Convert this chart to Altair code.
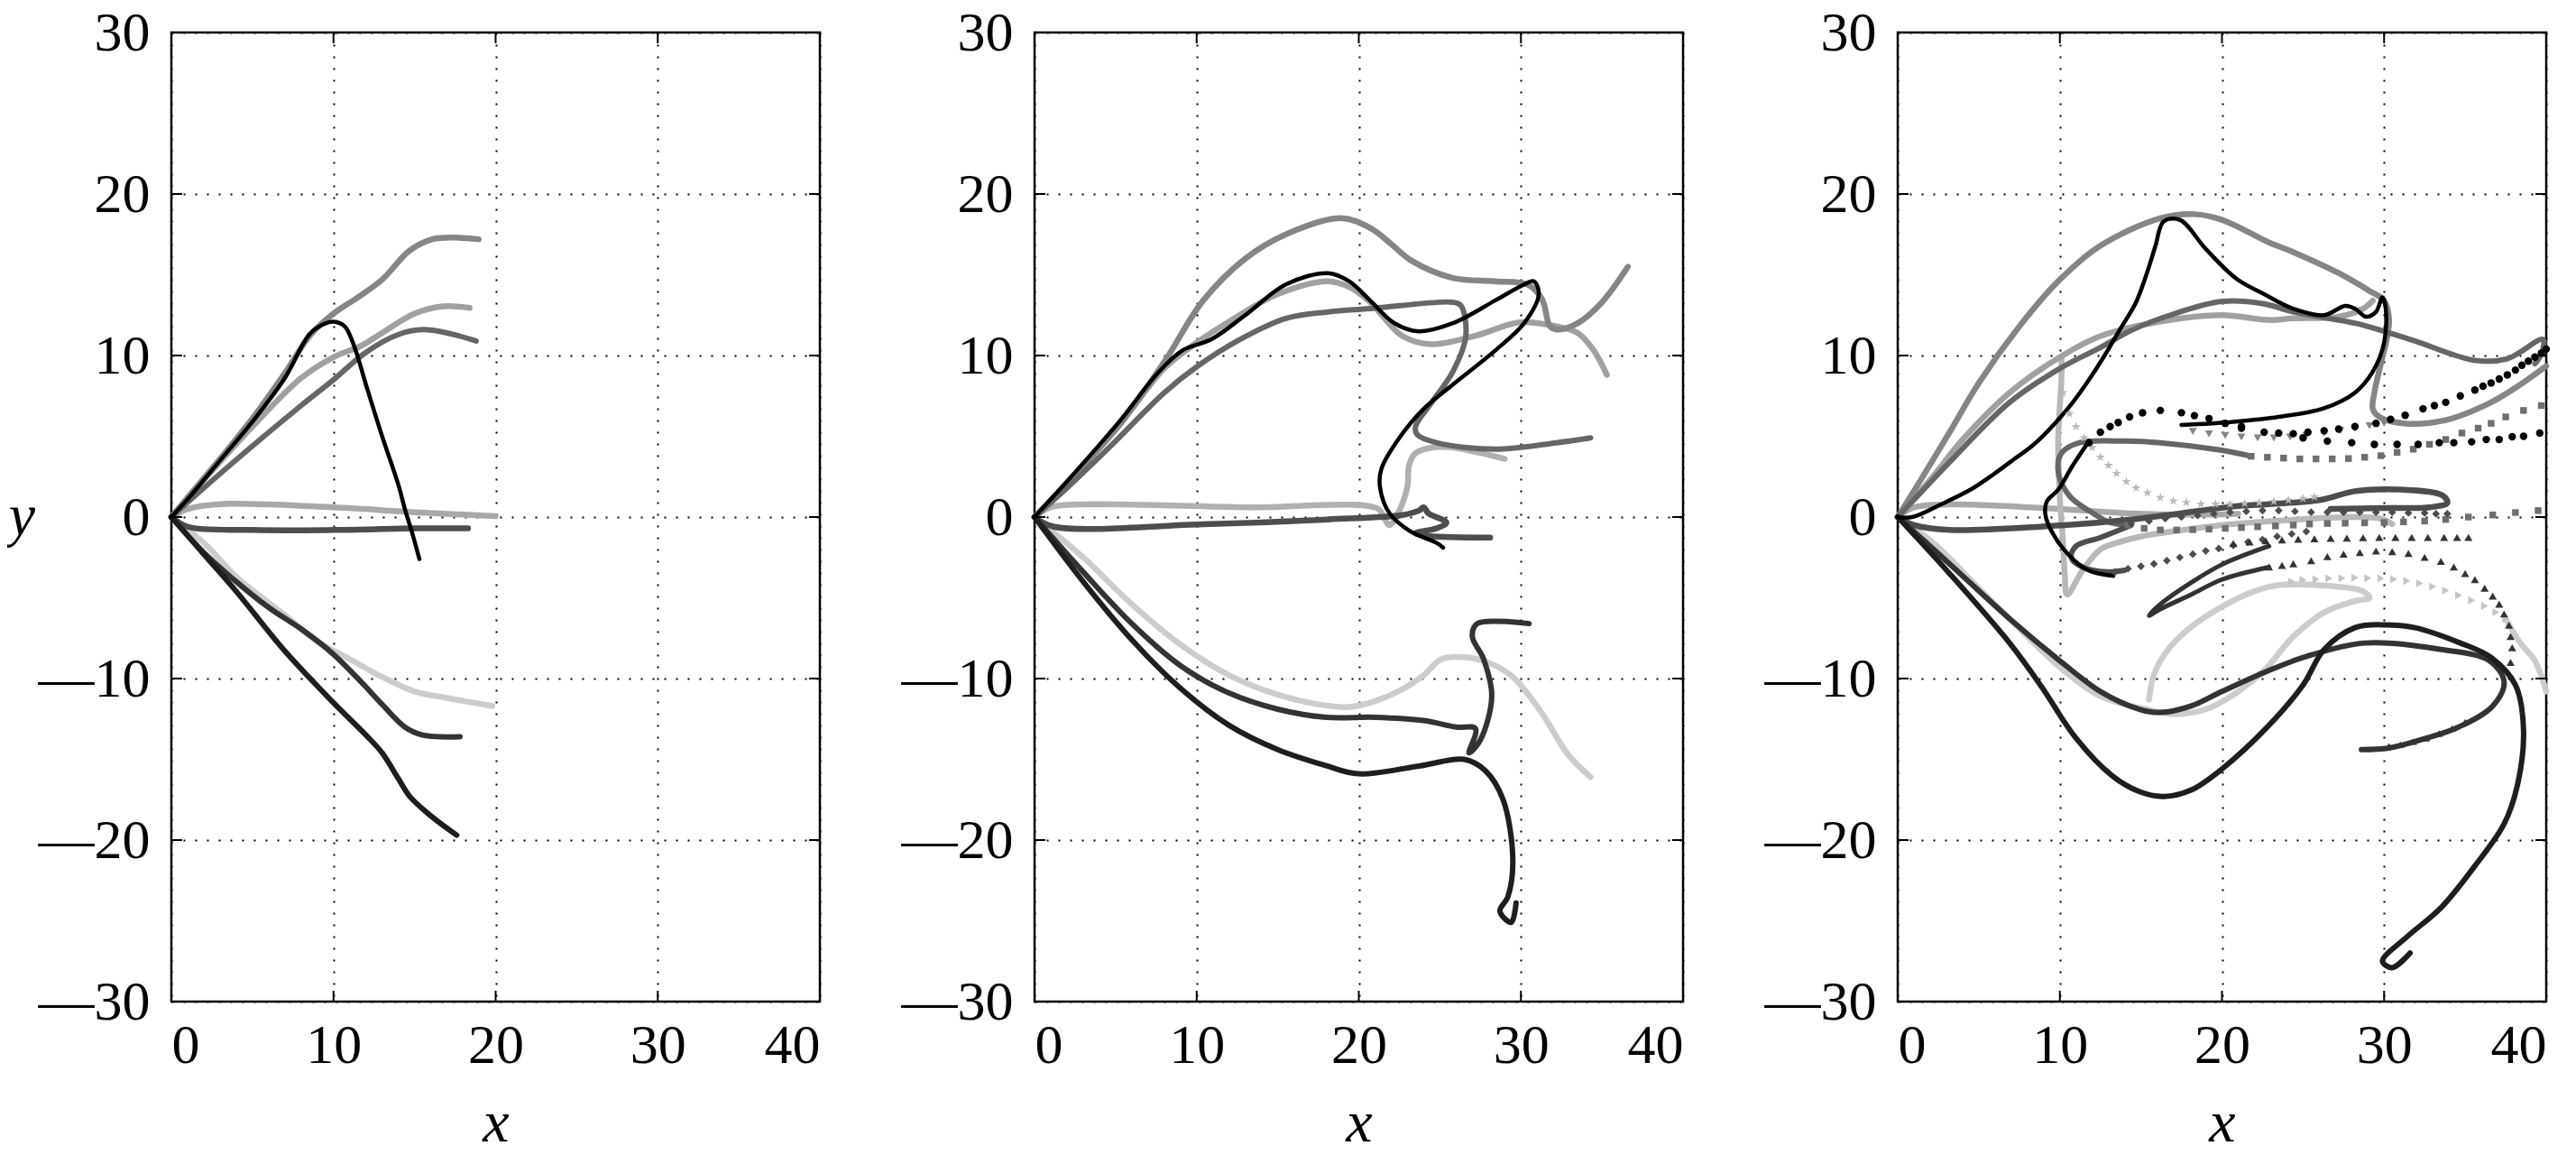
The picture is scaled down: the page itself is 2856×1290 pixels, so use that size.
import altair as alt
import pandas as pd

XT = [0, 10, 20, 30, 40]
YT = [-30, -20, -10, 0, 10, 20, 30]

# ---------------- panel 1 ----------------
p1_a = [(0,0),(1,1.2),(3,3.6),(5,6.1),(7,8.9),(8.6,11.3),(10,12.6),(11.5,13.6),(13,14.7),(14.7,16.5),(16.1,17.2),(17.5,17.3),(18.95,17.2)]
p1_b = [(0,0),(1,1.1),(3,3.5),(5,5.9),(7,8.6),(8.5,11.3),(9.3,11.9),(10,12.1),(10.7,11.8),(11.3,10.5),(12,8.2),(13,5),(14,2),(14.4,0.5),(14.8,-0.8),(15.3,-2.6)]
p1_c = [(0,0),(2,2.3),(5,5.6),(8,8.6),(10,9.9),(11.7,10.6),(13,11.4),(15,12.6),(16.75,13.05),(18.4,12.95)]
p1_d = [(0,0),(2,1.8),(5,4.4),(8,6.9),(10,8.5),(12,10.2),(14,11.3),(15.5,11.6),(17,11.4),(18.8,10.9)]
p1_e = [(0,0),(1,0.5),(3,0.8),(10,0.6),(15,0.3),(20,0.05)]
p1_f = [(0,0),(1,-0.6),(5,-0.8),(10,-0.8),(15,-0.7),(18.3,-0.7)]
p1_g = [(0,0),(2,-1.6),(4,-3.7),(6.9,-6.0),(9,-7.7),(11,-8.8),(13,-9.9),(15,-10.8),(17,-11.2),(19.8,-11.7)]
p1_h = [(0,0),(2,-2.2),(4,-4.0),(6,-5.6),(8.1,-7.0),(10,-8.5),(11.7,-10.2),(13,-11.6),(14.4,-13.0),(15.5,-13.5),(17.8,-13.6)]
p1_i = [(0,0),(2,-2.3),(4,-4.6),(7,-8.3),(10,-11.5),(12,-13.5),(13,-14.6),(14,-16.2),(14.7,-17.3),(16,-18.5),(17.6,-19.7)]

# ---------------- panel 2 ----------------
p2_a = [(0,0),(2,2.1),(5.3,5.8),(8,9.6),(10.4,13.4),(13,16),(15.5,17.5),(18.9,18.5),(20.7,17.9),(22,16.9),(23.2,15.9),(25.8,14.8),(28.4,14.6),(30.4,14.4),(31.3,13.5),(31.8,11.8),(32.3,11.6),(33.5,12),(35,13.3),(36.6,15.5)]
p2_b = [(0,0),(2,2.2),(5.3,6),(7.5,8.8),(9.1,10.3),(10.9,11),(13,12.5),(15.5,14.4),(18.1,15.1),(19.4,14.6),(20.7,13.4),(22.2,12),(23.7,11.5),(25.8,12),(28.4,13.4),(30.2,14.4),(30.8,14.6),(31.1,13.8),(30.2,12),(28.4,10.3),(25.8,8.2),(24,6.7),(22.5,4.9),(21.4,3),(21.3,1.9),(21.9,0.22),(23.2,-0.9),(24.8,-1.6),(25.2,-1.9)]
p2_c = [(0,0),(2,2.1),(5,5.4),(8,9.2),(10,10.8),(12,12.1),(15,13.8),(18.1,14.6),(19.5,14.2),(20.7,13.3),(22.7,11.2),(24.5,10.7),(27.1,11.2),(29.9,12.05),(31.7,11.9),(33.5,11.4),(34.5,10.3),(35.3,8.8)]
p2_d = [(0,0),(2,1.8),(5,4.7),(8,7.7),(10,9.3),(12.5,10.9),(15.5,12.3),(18.1,12.7),(20.7,12.9),(25.8,13.3),(26.3,13.1),(26.6,11.2),(25.8,9),(24.5,7.1),(23.5,5.6),(23.6,5.1),(24.8,4.6),(28.4,4.2),(32.2,4.6),(34.3,4.9)]
p2_e = [(0,0),(1,0.6),(2.7,0.78),(13,0.6),(21.2,0.5),(21.6,-0.15),(21.9,-0.5),(22.5,0.4),(23,1.9),(23.1,3.2),(23.5,3.95),(24.5,4.3),(25.8,4.3),(29,3.6)]
p2_f = [(0,0),(1.2,-0.6),(10.4,-0.45),(18.1,-0.15),(22.7,0.13),(23.7,0.4),(24,0.6),(24.3,0.22),(25.4,-0.34),(24.8,-0.7),(23.5,-1.0),(24.3,-1.17),(28.1,-1.27)]
p2_g = [(0,0),(3,-2.5),(6,-5.4),(9,-7.9),(12,-9.8),(15,-11),(17.5,-11.6),(19.4,-11.76),(21,-11.4),(22.8,-10.6),(24,-9.8),(25.1,-8.8),(26.8,-8.7),(28.2,-9.1),(29.5,-9.9),(31.2,-12),(32.9,-14.7),(34.3,-16.1)]
p2_h = [(0,0),(3,-3.4),(6,-6.6),(9,-9.2),(12,-10.9),(15,-11.9),(18,-12.4),(21,-12.4),(24,-12.6),(26,-13),(27.2,-13.1),(26.8,-14.6),(27.5,-13.8),(28.2,-11.1),(27.7,-8.8),(27,-7.4),(27.3,-6.6),(30.5,-6.6)]
p2_i = [(0,0),(3,-4),(6,-7.6),(9,-10.6),(12,-12.9),(15,-14.4),(18,-15.4),(20,-15.9),(23.8,-15.4),(26.5,-15),(27.8,-15.7),(28.9,-17.5),(29.5,-21.2),(29.2,-23.5),(28.7,-24.4),(29.4,-25.1),(29.7,-23.9)]

# ---------------- panel 3 (solid curves) ----------------
p3_a = [(0,0),(1.3,2.1),(3.2,5.25),(5,8.3),(7.5,11.8),(9.9,14.6),(12.5,16.8),(16.2,18.5),(18.3,18.75),(20,18.4),(22.9,17),(24.4,16.4),(27.2,15.1),(29.1,14),(30,13.4),(30.3,12.3),(30.2,11.2),(29.8,9.5),(29.4,7.7),(29.3,6.7),(29.7,6.2),(31.2,5.8),(33.8,6),(36.6,7.1),(38.4,8.2),(40,9.35)]
p3_b = [(0,0),(0.9,0),(2.7,0.8),(4.5,1.7),(5.9,2.64),(7.2,3.6),(8.4,4.5),(9.7,5.8),(10.8,7.1),(11.8,8.5),(12.7,9.9),(13.7,11.6),(14.7,13.3),(15.4,15.2),(15.9,16.8),(16.4,18.3),(17.4,18.4),(19,16.6),(20.9,14.75),(22.6,13.8),(24.4,12.9),(26.3,12.5),(27.6,13.07),(28.2,12.9),(28.9,12.4),(29.5,12.7),(29.9,13.6),(30.1,12.9),(30,10.8),(29.3,9),(28.2,7.7),(26.3,6.74),(23.5,6.2),(20.7,5.9),(17.5,5.7)]
p3_c = [(11.8,4.7),(10.8,3.2),(9.9,1.7),(9.2,0.97),(9.1,0.2),(9.5,-0.9),(10.6,-2.4),(11.75,-3.3),(13.3,-3.65)]
p3_d = [(0,0),(2,2.3),(4.1,4.9),(6.9,7.7),(10,9.9),(12.5,11.2),(16.2,12.1),(20,12.5),(22.9,12.2),(24.4,12.3),(27.2,12.4),(28.7,12.9),(29.3,13.4)]
p3_e = [(10.1,9.9),(10.1,8.6),(9.9,4.9),(10,1.15),(10.2,-1.6),(10.3,-3.5),(10.45,-4.8),(11.4,-3.3),(12.5,-2.0),(13.5,-1.6),(15,-1.2),(17.3,-0.85),(20,-0.5),(24,-0.2),(28,0),(29.8,-0.1),(30.5,-0.43)]
p3_f = [(0,0),(1,0.6),(3.2,0.78),(10,0.5),(14.4,0.22),(18,0.15),(21,0.2)]
p3_g = [(0,0),(1,-0.5),(3.2,-0.8),(8.8,-0.6),(14.4,-0.15),(20.7,0.65),(22.9,0.8),(26.1,1.06),(28.2,1.6),(31,1.7),(33.6,1.34),(33.9,0.88),(32.8,0.6),(30,0.56),(26.7,0.5)]
p3_h = [(14.4,-0.5),(12.5,-1.27),(11,-1.8),(10.7,-2.5),(11.4,-3.1),(12.9,-3.4),(14,-3.3)]
p3_i = [(0,0),(1.5,1.6),(3.2,3.4),(6.9,7.1),(10,9.2),(12.5,10.5),(14.5,11.6),(16.8,12.5),(20,13.35),(22.6,13.2),(24.4,12.7),(28.2,12),(30,11.5),(31.9,10.9),(35.6,9.7),(37.6,9.8),(39.8,11),(39.7,10.1),(39.3,9.5)]
p3_j = [(21.8,3.76),(20,4.13),(16.2,4.6),(14,4.7),(11.2,4.6),(10.1,3.95),(9.9,2.8),(10.6,1.3),(12.1,0.2),(13,-0.3),(14.2,-0.5)]
p3_k = [(0,0),(3.2,-2.9),(6.9,-6.3),(10,-8.9),(12.5,-10.8),(14.9,-11.9),(16.2,-12.1),(18.1,-11.7),(20,-10.8),(22.9,-9.5),(25,-8.7),(28.8,-7.8),(33.5,-8.2),(36.5,-8.9),(37.4,-10.2),(36.7,-11.7),(34.6,-13),(32.4,-13.75),(30.3,-14.3),(28.6,-14.4)]
p3_l = [(0,0),(3.2,-3.5),(6.9,-7.8),(8.8,-10.4),(11,-13.7),(13.2,-16),(14.9,-17),(16.4,-17.3),(18.1,-16.9),(20,-15.6),(22.8,-13),(25,-10.4),(26.3,-8.2),(28.2,-6.85),(30,-6.67),(31.9,-6.85),(34.7,-7.8),(36.6,-8.7),(38.1,-10.4),(38.6,-13.2),(38.2,-16.7),(37.4,-19),(35.6,-21.6),(33.5,-24.2),(31.4,-26),(29.9,-27.5),(30.5,-27.9),(31.6,-27)]
p3_m = [(0,0),(2.2,-1.6),(5,-4.4),(7.8,-7.2),(10,-9.3),(12.5,-11.1),(15.3,-11.9),(17.2,-12.2),(19,-11.9),(20.7,-11),(22.6,-9.5),(24.4,-7.4),(26.3,-5.9),(28.2,-5.2),(29.1,-5.0),(28.7,-4.6),(26.3,-4.25),(23,-4.3),(20,-5.55),(17.2,-7.6),(15.9,-9.5),(15.5,-11.3)]
p3_n = [(22.9,-1.8),(20,-2.94),(18.1,-4.06),(16.2,-5.4),(15.5,-6.1),(16.2,-5.7),(18.1,-4.8),(20,-3.87),(22.9,-3.1)]
p3_o = [(37.5,-6.3),(38.4,-7.8),(39.3,-8.9),(40,-10.8)]

# ---------------- panel 3 (marker series) ----------------
p3_dots1 = [(11.8,4.6),(12.5,5.25),(13.1,5.6),(13.6,5.85),(14.3,6.2),(15.1,6.45),(16.2,6.6),(17.5,6.46),(18.3,6.28),(19.2,6.1),(20.2,5.8),(21.2,5.6),(22.6,5.25),(23.5,5.2),(24.4,5.16),(25.3,5.25),(26.3,5.34),(27.2,5.45),(28.2,5.6),(29.5,5.8),(30.4,6.05),(31.3,6.3),(32.4,6.7),(33.1,6.9),(33.8,7.1),(34.7,7.5),(35.6,7.86),(36.1,8.1),(36.6,8.3),(37.1,8.55),(37.6,8.8),(38.1,9.1),(38.5,9.4),(38.9,9.65),(39.3,9.9),(39.7,10.15),(40,10.4)]
p3_dots2 = [(21.2,5.5),(25,4.9),(26.5,4.7),(28,4.6),(29.4,4.5),(30.8,4.5),(32.1,4.5),(33.4,4.6),(34.3,4.6),(35.4,4.66),(36.3,4.8),(37.1,4.8),(37.9,4.97),(38.6,5.0),(39.6,5.2)]
p3_tri_down = [(18.2,5.3),(19.2,5.15),(20.2,5.05),(21.2,4.95),(22.2,4.9),(23.2,4.9),(24.2,4.95),(25.2,5.05),(26.3,5.2),(27.3,5.35),(28.2,5.5),(29.1,5.65),(30,5.8)]
p3_stars = [(10.2,7.7),(10.6,6.4),(11,5.6),(11.5,4.9),(12,4.3),(12.5,3.7),(13,3.2),(13.5,2.7),(14.1,2.2),(14.7,1.8),(15.4,1.5),(16.2,1.2),(17,1.0),(17.8,0.9),(18.7,0.8),(19.6,0.8),(20.5,0.8),(21.4,0.85),(22.3,0.9),(23.2,0.97),(24.1,1.05),(25,1.15),(25.7,1.25)]
p3_diam1 = [(14.4,-0.4),(15.5,-0.25),(16.5,-0.1),(17.5,0.0),(18.5,0.1),(19.5,0.2),(20.5,0.3),(21.5,0.35),(22.5,0.4),(23.5,0.4),(24.5,0.35),(25.5,0.3),(26.5,0.3),(27.5,0.3),(28.5,0.3),(29.5,0.3),(30.5,0.3),(31.5,0.25),(32.5,0.25),(33.2,0.2),(33.9,0.2)]
p3_diam2 = [(13.4,-3.4),(14.2,-3.2),(15,-3.05),(15.8,-2.9),(16.6,-2.7),(17.4,-2.5),(18.2,-2.3),(19,-2.1),(19.8,-1.95),(20.7,-1.75),(21.6,-1.55),(22.5,-1.4),(23.4,-1.2),(24.3,-1.05),(25.2,-0.9)]
p3_sq1 = [(14.2,-0.5),(15.2,-0.7),(16.2,-0.8),(17.2,-0.8),(18.2,-0.78),(19.2,-0.75),(20.2,-0.7),(21.2,-0.65),(22.2,-0.6),(23.3,-0.55),(24.4,-0.5),(25.4,-0.43),(26.5,-0.4),(27.6,-0.38),(28.8,-0.36),(30,-0.34),(31.2,-0.3),(32.5,-0.25),(33.8,-0.15),(35.2,0.0),(36.7,0.13),(38.1,0.28),(39.5,0.4)]
p3_sq2 = [(21.8,3.76),(22.8,3.7),(23.8,3.65),(24.8,3.6),(25.8,3.6),(26.8,3.6),(27.8,3.62),(28.8,3.7),(29.8,3.8),(30.8,4.0),(31.8,4.2),(32.8,4.5),(33.8,4.8),(34.8,5.2),(35.8,5.5),(36.6,5.8),(37.5,6.2),(38.6,6.6),(39.7,6.9)]
p3_tri1 = [(20.7,-1.64),(21.7,-1.55),(22.7,-1.48),(23.7,-1.42),(24.7,-1.38),(25.7,-1.35),(26.7,-1.32),(27.7,-1.3),(28.7,-1.28),(29.7,-1.27),(30.7,-1.27),(31.7,-1.27),(32.7,-1.27),(33.7,-1.27),(34.5,-1.27),(35.2,-1.27)]
p3_tri2 = [(22.9,-3.1),(23.7,-3.0),(24.4,-2.9),(25.5,-2.7),(26.5,-2.45),(27.5,-2.3),(28.5,-2.2),(29.5,-2.1),(30.5,-2.15),(31.5,-2.25),(32.5,-2.5),(33.5,-2.75),(34.3,-3.1),(35,-3.5),(35.6,-3.87),(36.2,-4.4),(36.7,-4.9),(37.1,-5.4),(37.4,-6.0),(37.7,-6.7),(37.8,-7.4),(37.9,-8.1),(37.8,-9.0)]
p3_tri3 = [(30.3,-14.2),(31,-14.1),(31.8,-13.9),(32.6,-13.7),(33.4,-13.4),(34.2,-13.1),(35,-12.7)]
p3_tri_right = [(24.3,-4.0),(25,-3.9),(25.8,-3.85),(26.6,-3.8),(27.4,-3.78),(28.2,-3.76),(29,-3.78),(29.8,-3.8),(30.6,-3.85),(31.4,-3.95),(32.2,-4.1),(33,-4.3),(33.8,-4.55),(34.6,-4.85),(35.4,-5.15),(36.2,-5.5),(36.9,-5.9),(37.5,-6.3)]

STAR = "M0,-1L0.22,-0.31L0.95,-0.31L0.36,0.12L0.59,0.81L0,0.38L-0.59,0.81L-0.36,0.12L-0.95,-0.31L-0.22,-0.31Z"

# styles: (series, colour, width)
P1_LINES = [(p1_e, "#a8a8a8", 6.5), (p1_g, "#cccccc", 6.5), (p1_c, "#a0a0a0", 6.5), (p1_a, "#858585", 6.5),
            (p1_d, "#666666", 6), (p1_f, "#4d4d4d", 6.5), (p1_h, "#333333", 6), (p1_i, "#1e1e1e", 6),
            (p1_b, "#000000", 4.5)]
P2_LINES = [(p2_e, "#b0b0b0", 6.5), (p2_g, "#cccccc", 6.5), (p2_c, "#a0a0a0", 6.5), (p2_a, "#858585", 6.5),
            (p2_d, "#666666", 6), (p2_f, "#4d4d4d", 6.5), (p2_h, "#333333", 6), (p2_i, "#1e1e1e", 6),
            (p2_b, "#000000", 4.5)]
P3_LINES = [(p3_f, "#a8a8a8", 6.5), (p3_m, "#cccccc", 6.5), (p3_o, "#cccccc", 6.5), (p3_e, "#b8b8b8", 6.5),
            (p3_d, "#a0a0a0", 6.5), (p3_a, "#858585", 6.5), (p3_i, "#666666", 6), (p3_j, "#666666", 6),
            (p3_g, "#4d4d4d", 6.5), (p3_h, "#4d4d4d", 6), (p3_n, "#333333", 5), (p3_k, "#333333", 6),
            (p3_l, "#1e1e1e", 6), (p3_b, "#000000", 4.5), (p3_c, "#000000", 4.5)]
P3_POINTS = [(p3_stars, "#b8b8b8", STAR, 120), (p3_tri_right, "#c4c4c4", "triangle-right", 80),
             (p3_sq1, "#6e6e6e", "square", 55), (p3_sq2, "#6e6e6e", "square", 55),
             (p3_tri_down, "#858585", "triangle-down", 80),
             (p3_diam1, "#4d4d4d", "diamond", 75), (p3_diam2, "#4d4d4d", "diamond", 75),
             (p3_tri1, "#333333", "triangle-up", 80), (p3_tri2, "#333333", "triangle-up", 80),
             (p3_tri3, "#333333", "triangle-up", 70),
             (p3_dots1, "#000000", "circle", 70), (p3_dots2, "#000000", "circle", 70)]

W, H = 719, 1074
FONT = "Liberation Serif"
LABEL_EXPR = "datum.value < 0 ? '\u2014' + format(-datum.value, 'd') : format(datum.value, 'd')"


def lines_df(spec, tag):
    rows = []
    for i, (pts, col, w) in enumerate(spec):
        for j, (x, y) in enumerate(pts):
            rows.append({"sid": f"{tag}{i:02d}", "ord": j, "x": x, "y": y, "color": col, "width": w})
    return pd.DataFrame(rows)


def points_df(spec, tag):
    rows = []
    for i, (pts, col, shp, sz) in enumerate(spec):
        for j, (x, y) in enumerate(pts):
            rows.append({"sid": f"{tag}{i:02d}", "ord": j, "x": x, "y": y, "color": col,
                         "shape": shp, "size": sz})
    return pd.DataFrame(rows)


def panel(line_spec, tag, point_spec=None, ytitle=False):
    xs = alt.Scale(domain=[0, 40], nice=False, zero=False)
    ys = alt.Scale(domain=[-30, 30], nice=False, zero=False)
    xaxis = alt.Axis(values=XT, format="d", title="x", grid=True, ticks=False, domain=False,
                     labelPadding=18, labelFont=FONT, titleFont=FONT,
                     titleFontStyle="italic", titleX=W / 2, titleY=154,
                     titleAlign="center", titleBaseline="alphabetic")
    common_y = dict(values=YT, labelExpr=LABEL_EXPR, grid=True, ticks=False, domain=False,
                    labelPadding=24, labelFont=FONT, titleFont=FONT)
    if ytitle:
        yaxis = alt.Axis(title="y", titleAngle=0, titleFontStyle="italic", titleX=-166,
                         titleY=536, titleAlign="center", titleBaseline="middle", **common_y)
    else:
        yaxis = alt.Axis(title=None, **common_y)
    base = alt.Chart(lines_df(line_spec, tag)).mark_line(
        interpolate="catmull-rom", strokeCap="round", strokeJoin="round").encode(
        x=alt.X("x:Q", scale=xs, axis=xaxis),
        y=alt.Y("y:Q", scale=ys, axis=yaxis),
        detail="sid:N",
        order="ord:Q",
        color=alt.Color("color:N", scale=None),
        strokeWidth=alt.StrokeWidth("width:Q", scale=None),
    )
    layers = [base]
    if point_spec:
        pts = alt.Chart(points_df(point_spec, tag)).mark_point(
            filled=True, opacity=1, strokeWidth=0).encode(
            x="x:Q", y="y:Q",
            color=alt.Color("color:N", scale=None),
            shape=alt.Shape("shape:N", scale=None),
            size=alt.Size("size:Q", scale=None),
        )
        layers.append(pts)
    tx = pd.DataFrame({"v": XT})
    ty = pd.DataFrame({"v": YT})
    tick_b = alt.Chart(tx).mark_rule(color="black", strokeWidth=2).encode(
        x="v:Q", y=alt.value(H), y2=alt.value(H - 12))
    tick_t = alt.Chart(tx).mark_rule(color="black", strokeWidth=2).encode(
        x="v:Q", y=alt.value(0), y2=alt.value(12))
    tick_l = alt.Chart(ty).mark_rule(color="black", strokeWidth=2).encode(
        y="v:Q", x=alt.value(0), x2=alt.value(12))
    tick_r = alt.Chart(ty).mark_rule(color="black", strokeWidth=2).encode(
        y="v:Q", x=alt.value(W), x2=alt.value(W - 12))
    layers += [tick_b, tick_t, tick_l, tick_r]
    return alt.layer(*layers).properties(width=W, height=H)


c1 = panel(P1_LINES, "a", ytitle=True)
c2 = panel(P2_LINES, "b")
c3 = panel(P3_LINES, "c", P3_POINTS)

chart = alt.hconcat(c1, c2, c3, spacing=238, bounds="flush").properties(
    padding={"left": 0, "top": -5, "right": 5, "bottom": 0}, background="white"
).configure_view(stroke="black", strokeWidth=2.5).configure_axis(
    labelFont=FONT, labelFontSize=62, labelColor="black",
    titleFont=FONT, titleFontSize=66, titleFontWeight="normal", titleColor="black",
    gridColor="black", gridDash=[2, 11], gridWidth=2, gridOpacity=1,
)

chart.save("out.html", embed_options={"renderer": "svg", "actions": False})
